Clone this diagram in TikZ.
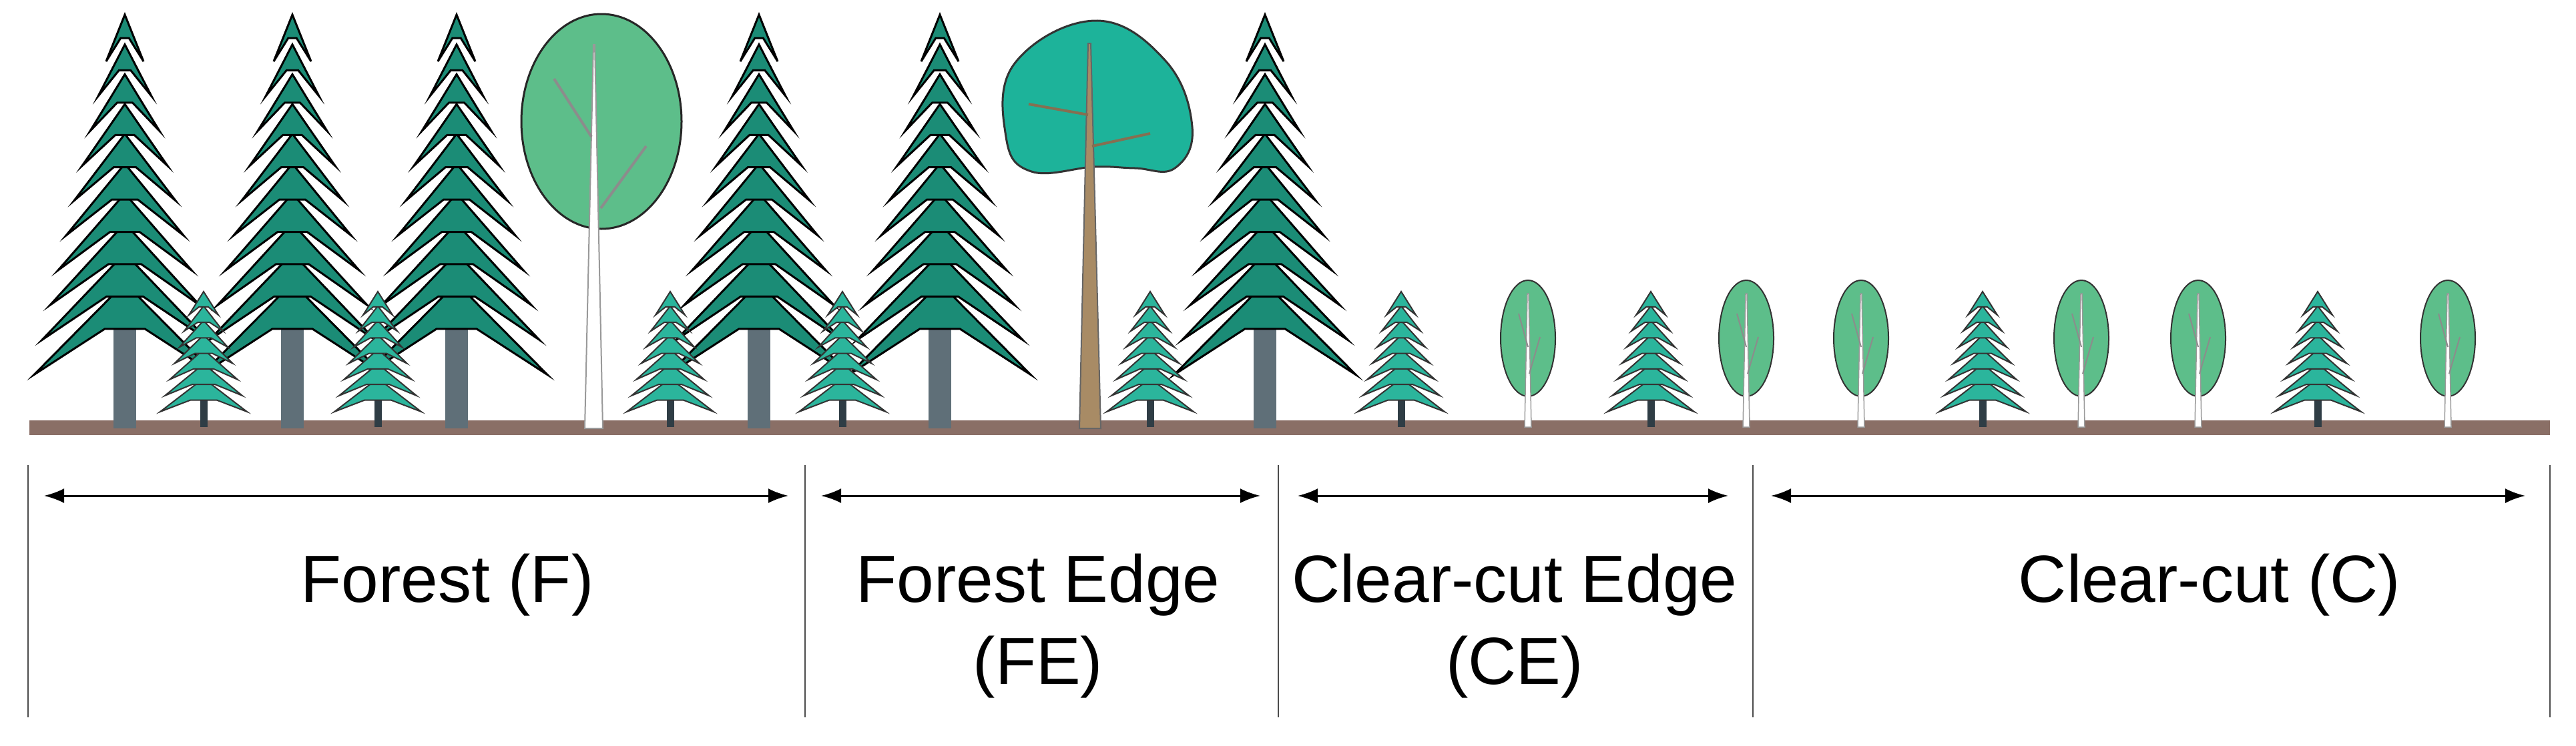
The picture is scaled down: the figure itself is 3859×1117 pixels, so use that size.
\documentclass[tikz,border=0pt]{standalone}
\usepackage{fontspec}
\setmainfont{Liberation Sans}
\definecolor{bigfolc}{HTML}{1B8C76}
\definecolor{smfolc}{HTML}{2BB59C}
\definecolor{btrunkc}{HTML}{5F6F78}
\definecolor{strunkc}{HTML}{2F3D45}
\definecolor{groundc}{HTML}{8A6F66}
\definecolor{ovalc}{HTML}{5DBE8A}
\definecolor{tealcrown}{HTML}{1DB39A}
\definecolor{browntrunk}{HTML}{A88B65}
\tikzset{
  bigfol/.style={fill=bigfolc,draw=black,line width=3pt,line join=miter},
  smfol/.style={fill=smfolc,draw=black!80,line width=2pt,line join=miter},
  divider/.style={line width=1.5pt,black!70},
  dimarrow/.style={line width=3pt,{Latex[length=30pt,width=22pt]}-{Latex[length=30pt,width=22pt]}},
  lab/.style={font=\fontsize{100}{123}\selectfont,align=center,inner sep=0pt},
  crownline/.style={draw=black!80,line width=3pt},
}
\usetikzlibrary{arrows.meta}
\newcommand\BigSpruce[1]{\begin{scope}[xshift=#1pt]
 \fill[btrunkc] (-17,470) rectangle (17,642);
 \foreach \k in {9,...,0}{
  \pgfmathsetmacro\a{22+44.67*\k}
  \pgfmathsetmacro\h{70+7.5*\k}
  \pgfmathsetmacro\w{28+12*\k}
  \filldraw[bigfol] (0,\a) -- (\w,\a+\h) -- (0.22*\w,\a+0.5*\h) -- (-0.22*\w,\a+0.5*\h) -- (-\w,\a+\h) -- cycle;
 }\end{scope}}
\newcommand\SmallSpruce[1]{\begin{scope}[xshift=#1pt]
 \fill[strunkc] (-5.5,560) rectangle (5.5,640);
 \foreach \k in {6,...,0}{
  \pgfmathsetmacro\a{437+21.67*\k}
  \pgfmathsetmacro\h{35+2.5*\k}
  \pgfmathsetmacro\w{22+7.17*\k}
  \filldraw[smfol] (0,\a) -- (\w,\a+\h) -- (0.3*\w,\a+0.65*\h) -- (-0.3*\w,\a+0.65*\h) -- (-\w,\a+\h) -- cycle;
 }\end{scope}}
\newcommand\SmallOval[1]{\begin{scope}[xshift=#1pt]
 \filldraw[fill=ovalc,draw=black!80,line width=2pt] (0,507) ellipse [x radius=41,y radius=87];
 \filldraw[fill=white,draw=black!40,line width=1.5pt] (-5,640) -- (5,640) -- (1,440) -- (-1,440) -- cycle;
 \draw[black!45,line width=2pt] (0,520) -- (-14,470);
 \draw[black!45,line width=2pt] (2,560) -- (18,505);
\end{scope}}
\begin{document}
\begin{tikzpicture}[x=1pt,y=-1pt]
\useasboundingbox (0,0) rectangle (3859,1117);
\fill[white] (0,0) rectangle (3859,1117);
% ground
\fill[groundc] (44,630) rectangle (3820,652);
% birch
\filldraw[fill=ovalc,draw=black!85,line width=3pt] (901,182) ellipse [x radius=120,y radius=161];
\filldraw[fill=white,draw=black!40,line width=2pt] (876,642) -- (903,642) -- (891,67) -- (889,67) -- cycle;
\draw[black!45,line width=4pt] (886,205) -- (830,118);
\draw[black!45,line width=4pt] (900,312) -- (968,219);
% brown-trunk broadleaf
\filldraw[fill=tealcrown,crownline] plot[smooth cycle,tension=0.7] coordinates {(1640,250) (1545,257) (1507,205) (1520,95) (1640,31) (1745,90) (1786,190) (1760,252) (1700,252)};
\filldraw[fill=browntrunk,draw=black!60,line width=2pt] (1617,642) -- (1649,642) -- (1634,65) -- (1630,65) -- cycle;
\draw[browntrunk!80!black,line width=4pt] (1630,172) -- (1541,156);
\draw[browntrunk!80!black,line width=4pt] (1636,219) -- (1723,200);
% spruces
\foreach \x in {187,438,684,1137,1408,1895}{\BigSpruce{\x}}
\foreach \x in {305,566,1004,1262,1723,2099,2473,2970,3472}{\SmallSpruce{\x}}
\foreach \x in {2289,2616,2788,3118,3293,3667}{\SmallOval{\x}}
% dividers
\foreach \x/\n in {42/d0,1206/d1,1915/d2,2626/d3,3820/d4}{
  \coordinate (\n t) at (\x,697); \coordinate (\n b) at (\x,1075);
  \draw[divider] (\n t) -- (\n b);}
% arrows
\coordinate (fa) at (66,743); \coordinate (fb) at (1181,743);
\coordinate (fea) at (1230,743); \coordinate (feb) at (1888,743);
\coordinate (cea) at (1944,743); \coordinate (ceb) at (2589,743);
\coordinate (ca) at (2653,743); \coordinate (cb) at (3783,743);
\draw[dimarrow] (fa) -- (fb);
\draw[dimarrow] (fea) -- (feb);
\draw[dimarrow] (cea) -- (ceb);
\draw[dimarrow] (ca) -- (cb);
% labels
\node[lab,anchor=north] (lf) at (670,830) {Forest (F)};
\node[lab,anchor=north] (lfe) at (1555,830) {Forest Edge\\(FE)};
\node[lab,anchor=north] (lce) at (2269,830) {Clear-cut Edge\\(CE)};
\node[lab,anchor=north] (lc) at (3310,830) {Clear-cut (C)};
\end{tikzpicture}
\end{document}
